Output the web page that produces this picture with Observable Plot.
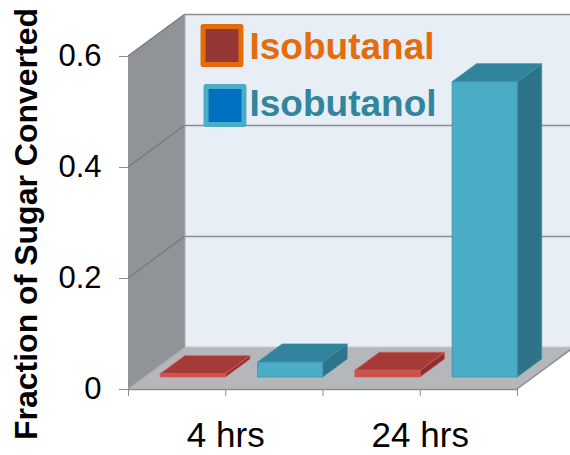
<!DOCTYPE html>
<html>
<head>
<meta charset="utf-8">
<script src="https://cdn.jsdelivr.net/npm/d3@7"></script>
<script src="https://cdn.jsdelivr.net/npm/@observablehq/plot@0.6"></script>
<style>
  html, body { margin: 0; padding: 0; background: white; overflow: hidden; }
  #chart svg { display: block; overflow: hidden; }
</style>
</head>
<body>
<div id="chart"></div>
<script>
// ---- data ----
const categories = ["4 hrs", "24 hrs"];
const series = ["Isobutanal", "Isobutanol"];
const isobutanal = [0.006, 0.012];
const isobutanol = [0.027, 0.532];
const yTicks = [0, 0.2, 0.4, 0.6];
const yTitle = "Fraction of Sugar Converted";

// ---- styles ----
const DEPTH = [57, -42];          // pixel offset of back wall
const F0 = 0.286, F1 = 0.715;     // bar front/back depth fractions
const BAR_INSET = 0.165;          // fraction of a slot left empty on each side
const barColors = {
  Isobutanal: {front: "#d0504c", top: "#a63a37", side: "#8c2f2d", edge: "#c9605b"},
  Isobutanol: {front: "#4bacc6", top: "#31849b", side: "#2d7488", edge: "#3b93ab"}
};
const legendColors = {
  Isobutanal: {fill: "#953735", stroke: "#e46c0a", text: "#e46c0a"},
  Isobutanol: {fill: "#0070c0", stroke: "#4bacc6", text: "#31859c"}
};
const values = [isobutanal, isobutanol];
const nSlots = categories.length * series.length;

const data = categories.flatMap((c, ci) => series.map((s, si) => ({
  category: c, series: s, value: values[si][ci], slot: ci * series.length + si
})));

const poly = (pts) => "M" + pts.map(p => p.join(",")).join("L") + "Z";

function wallsRender(index, scales, v) {
  const X0 = v.x1[0], X1 = v.x2[0], Y0 = v.y1[0], YT = v.y2[0];
  const [dx, dy] = DEPTH;
  const g = d3.create("svg:g");
  // back wall
  g.append("path").attr("d", poly([[X0+dx, YT+dy], [X1+dx, YT+dy], [X1+dx, Y0+dy], [X0+dx, Y0+dy]]))
    .attr("fill", "#e7eef6");
  // left wall
  g.append("path").attr("d", poly([[X0, YT], [X0+dx, YT+dy], [X0+dx, Y0+dy], [X0, Y0]]))
    .attr("fill", "#909397");
  // floor
  g.append("path").attr("d", poly([[X0, Y0], [X1, Y0], [X1+dx, Y0+dy], [X0+dx, Y0+dy]]))
    .attr("fill", "#b5b7ba");
  // left wall grid diagonals
  for (const t of yTicks) {
    const y = scales.y(t);
    g.append("line").attr("x1", X0).attr("y1", y).attr("x2", X0+dx).attr("y2", y+dy)
      .attr("stroke", t === 0 ? "#a5a7aa" : "#76797d").attr("stroke-width", 1.3);
  }
  // back edge of left wall
  g.append("line").attr("x1", X0+dx).attr("y1", YT+dy).attr("x2", X0+dx).attr("y2", Y0+dy)
    .attr("stroke", "#a7a9ac").attr("stroke-width", 1);
  // floor right edge
  g.append("line").attr("x1", X1).attr("y1", Y0).attr("x2", X1+dx).attr("y2", Y0+dy)
    .attr("stroke", "#8c8c8c").attr("stroke-width", 1.5);
  // floor back edge
  g.append("line").attr("x1", X0+dx).attr("y1", Y0+dy).attr("x2", X1+dx).attr("y2", Y0+dy)
    .attr("stroke", "#c9cbce").attr("stroke-width", 1);
  return g.node();
}

function barsRender(index, scales, v) {
  const [DX, DY] = DEPTH;
  const ax = DX * F0, ay = DY * F0, bx = DX * F1, by = DY * F1;
  const g = d3.create("svg:g");
  for (const i of index) {
    const c = barColors[data[i].series];
    const x1 = v.x1[i], x2 = v.x2[i], yb = v.y1[i], yt = v.y2[i];
    const gg = g.append("g").attr("stroke", c.edge).attr("stroke-width", 0.8).attr("stroke-linejoin", "round");
    gg.append("path").attr("fill", c.side)
      .attr("d", poly([[x2+ax, yt+ay], [x2+bx, yt+by], [x2+bx, yb+by], [x2+ax, yb+ay]]));
    gg.append("path").attr("fill", c.top)
      .attr("d", poly([[x1+ax, yt+ay], [x1+bx, yt+by], [x2+bx, yt+by], [x2+ax, yt+ay]]));
    gg.append("path").attr("fill", c.front)
      .attr("d", poly([[x1+ax, yt+ay], [x2+ax, yt+ay], [x2+ax, yb+ay], [x1+ax, yb+ay]]));
  }
  return g.node();
}

const legendMarks = series.flatMap((s, i) => [
  Plot.dot([s], {
    frameAnchor: "top-left", dx: 93.5 + i * 3, dy: -11 + i * 60,
    symbol: "square", r: 21.4,
    fill: legendColors[s].fill, stroke: legendColors[s].stroke, strokeWidth: 5,
    strokeLinejoin: "round"
  }),
  Plot.text([s], {
    frameAnchor: "top-left", dx: 121, dy: 2 + i * 57.5,
    text: d => d, textAnchor: "start", lineAnchor: "bottom",
    fontSize: 37, fontWeight: "bold", fill: legendColors[s].text
  })
]);

const chart = Plot.plot({
  width: 570,
  height: 455,
  marginLeft: 128,
  marginRight: 53,
  marginTop: 56,
  marginBottom: 66,
  style: {fontFamily: "'Liberation Sans', Arial, sans-serif", background: "white", color: "black"},
  x: {type: "linear", domain: [0, nSlots]},
  y: {domain: [0, d3.max(yTicks)]},
  marks: [
    Plot.rect([0], {x1: () => 0, x2: () => nSlots, y1: () => 0, y2: () => d3.max(yTicks), render: wallsRender}),
    Plot.ruleY(yTicks.filter(t => t > 0), {x1: () => 0, x2: () => nSlots, dx: DEPTH[0], dy: DEPTH[1],
      stroke: "#8c8c8c", strokeWidth: 1.6}),
    Plot.ruleY([0], {x1: () => 0, x2: () => nSlots, stroke: "#8c8c8c", strokeWidth: 1.5}),
    Plot.rect(data, {
      x1: d => d.slot + BAR_INSET, x2: d => d.slot + 1 - BAR_INSET,
      y1: () => 0, y2: "value", render: barsRender
    }),
    Plot.axisY(yTicks, {
      tickSize: 9, tickPadding: 18, fontSize: 31, stroke: "#8c8c8c", fill: "black",
      tickFormat: d => d === 0 ? "0" : d3.format(".1f")(d), label: null
    }),
    Plot.axisX(d3.range(nSlots + 1), {
      tickSize: 7, tickPadding: 26, fontSize: 35, stroke: "#8c8c8c", fill: "black",
      tickFormat: d => (d % series.length === 1) ? categories[(d - 1) / series.length] : "",
      label: null
    }),
    Plot.text([yTitle], {
      frameAnchor: "left", dx: -102, dy: 1, rotate: -90,
      text: d => d, textAnchor: "middle", lineAnchor: "middle",
      fontSize: 32, fontWeight: "bold", fill: "black"
    }),
    ...legendMarks
  ]
});
document.getElementById("chart").appendChild(chart);
</script>
</body>
</html>
